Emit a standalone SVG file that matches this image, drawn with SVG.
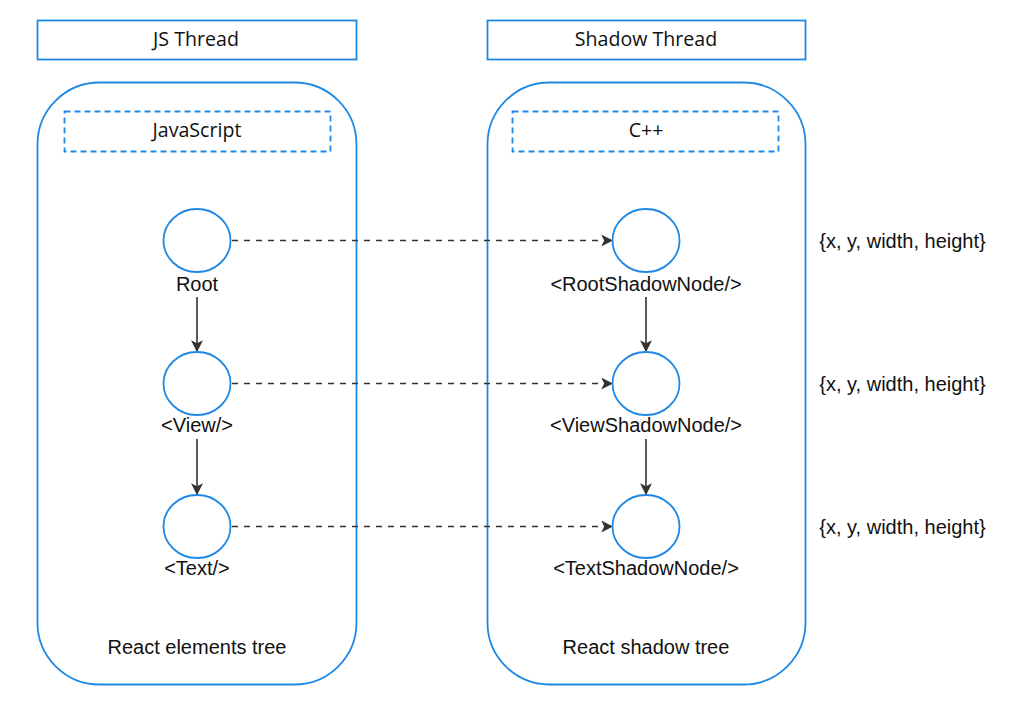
<svg xmlns="http://www.w3.org/2000/svg" width="1024" height="712" viewBox="0 0 1024 712">
<defs>
<style>
.box{fill:#fff;stroke:#1e88e5;stroke-width:1.8}
.dash{fill:none;stroke:#1e88e5;stroke-width:1.8;stroke-dasharray:6 4}
.circ{fill:#fff;stroke:#1e88e5;stroke-width:1.8}
.t{font-family:"Open Sans","Noto Sans",sans-serif;font-size:19.6px;fill:#111;text-anchor:middle}
.l{font-family:"Liberation Sans",Arial,sans-serif;font-size:20px;fill:#111;text-anchor:middle}
.c{stroke:#333;stroke-width:1.6;fill:none}
.cd{stroke:#333;stroke-width:1.6;fill:none;stroke-dasharray:6 6}
</style>
<marker id="ah" viewBox="0 0 10 10" refX="9" refY="5" markerWidth="12" markerHeight="12" markerUnits="userSpaceOnUse" orient="auto">
<path d="M0,0 L10,5 L0,10 L2.5,5 Z" fill="#333"/>
</marker>
</defs>
<rect width="1024" height="712" fill="#fff"/>
<g id="js-thread">
<rect class="box" x="37.5" y="20.5" width="319" height="39"/>
<text class="t" x="196" y="46">JS Thread</text>
</g>
<g id="shadow-thread">
<rect class="box" x="487.5" y="20.5" width="318" height="39"/>
<text class="t" x="646" y="46">Shadow Thread</text>
</g>
<g id="js-container">
<rect class="box" x="37.5" y="82.5" width="319" height="602" rx="62" ry="62"/>
<text class="l" x="197" y="654">React elements tree</text>
</g>
<g id="shadow-container">
<rect class="box" x="487.5" y="82.5" width="318" height="602" rx="62" ry="62"/>
<text class="l" x="646" y="654">React shadow tree</text>
</g>
<g id="javascript">
<rect class="dash" x="64.5" y="111.5" width="266" height="40"/>
<text class="t" x="197" y="137">JavaScript</text>
</g>
<g id="cpp">
<rect class="dash" x="512.5" y="111.5" width="266" height="40"/>
<text class="t" x="646" y="137">C++</text>
</g>
<g id="connectors">
<line class="c" x1="197" y1="297" x2="197" y2="351" marker-end="url(#ah)"/>
<line class="c" x1="197" y1="439" x2="197" y2="494" marker-end="url(#ah)"/>
<line class="c" x1="646" y1="297" x2="646" y2="351" marker-end="url(#ah)"/>
<line class="c" x1="646" y1="439" x2="646" y2="494" marker-end="url(#ah)"/>
<line class="cd" x1="232" y1="240.5" x2="612" y2="240.5" marker-end="url(#ah)"/>
<line class="cd" x1="232" y1="383.5" x2="612" y2="383.5" marker-end="url(#ah)"/>
<line class="cd" x1="232" y1="526.5" x2="612" y2="526.5" marker-end="url(#ah)"/>
</g>
<g id="root">
<ellipse class="circ" cx="197" cy="240.5" rx="33.5" ry="31.5"/>
<text class="l" x="197" y="291">Root</text>
</g>
<g id="view">
<ellipse class="circ" cx="197" cy="383.5" rx="33.5" ry="31.5"/>
<text class="l" x="197" y="432">&lt;View/&gt;</text>
</g>
<g id="text">
<ellipse class="circ" cx="197" cy="526.5" rx="33.5" ry="31.5"/>
<text class="l" x="197" y="575">&lt;Text/&gt;</text>
</g>
<g id="root-shadow">
<ellipse class="circ" cx="646" cy="240.5" rx="33.5" ry="31.5"/>
<text class="l" x="646" y="291">&lt;RootShadowNode/&gt;</text>
</g>
<g id="view-shadow">
<ellipse class="circ" cx="646" cy="383.5" rx="33.5" ry="31.5"/>
<text class="l" x="646" y="432">&lt;ViewShadowNode/&gt;</text>
</g>
<g id="text-shadow">
<ellipse class="circ" cx="646" cy="526.5" rx="33.5" ry="31.5"/>
<text class="l" x="646" y="575">&lt;TextShadowNode/&gt;</text>
</g>
<g id="layout-labels">
<text class="l" x="902.5" y="248">{x, y, width, height}</text>
<text class="l" x="902.5" y="391">{x, y, width, height}</text>
<text class="l" x="902.5" y="534">{x, y, width, height}</text>
</g>
</svg>
